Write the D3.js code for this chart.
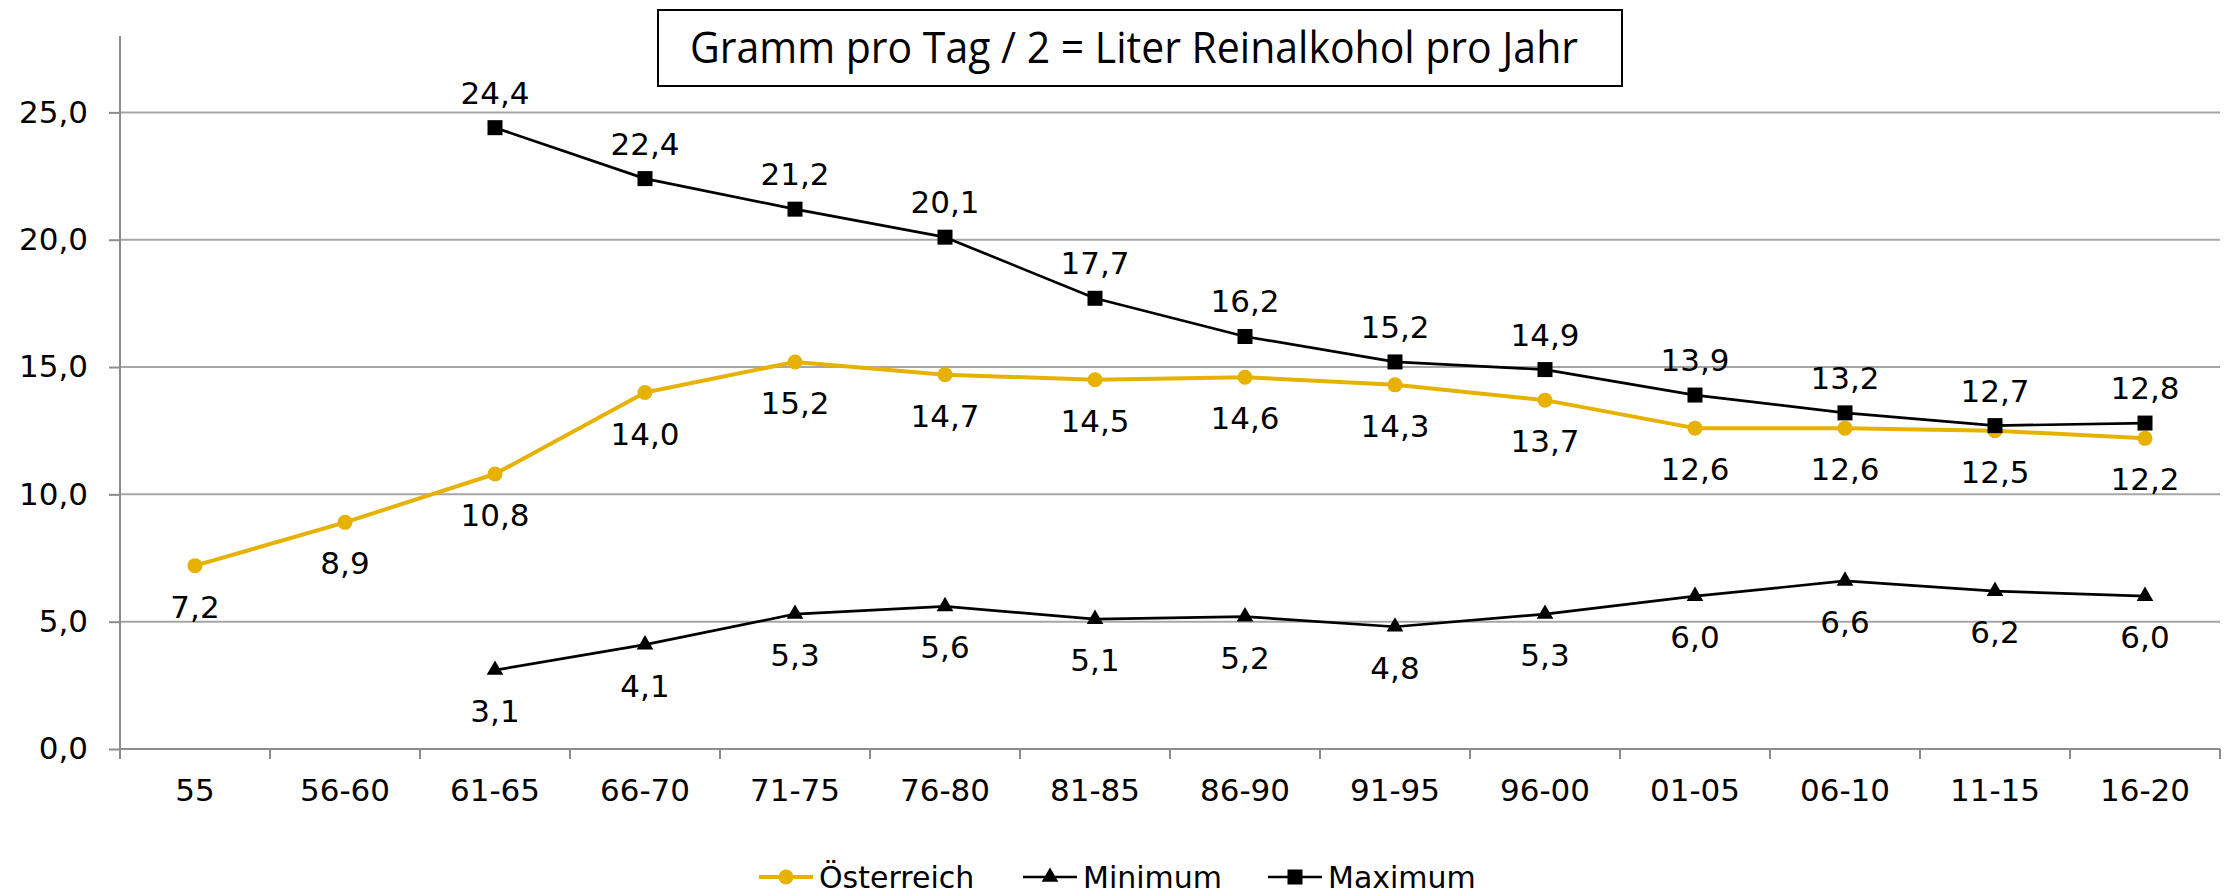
<!DOCTYPE html>
<html>
<head>
<meta charset="utf-8">
<script src="https://cdn.jsdelivr.net/npm/d3@7"></script>
<style>
html,body{margin:0;padding:0;background:#fff;}
svg{display:block;}
</style>
</head>
<body>
<svg id="chart" width="2233" height="895"></svg>
<script>
const categories = ["55","56-60","61-65","66-70","71-75","76-80","81-85","86-90","91-95","96-00","01-05","06-10","11-15","16-20"];
const oesterreich = [7.2, 8.9, 10.8, 14.0, 15.2, 14.7, 14.5, 14.6, 14.3, 13.7, 12.6, 12.6, 12.5, 12.2];
const minimum = [null, null, 3.1, 4.1, 5.3, 5.6, 5.1, 5.2, 4.8, 5.3, 6.0, 6.6, 6.2, 6.0];
const maximum = [null, null, 24.4, 22.4, 21.2, 20.1, 17.7, 16.2, 15.2, 14.9, 13.9, 13.2, 12.7, 12.8];
const yTicks = [0, 5, 10, 15, 20, 25];
const titleText = "Gramm pro Tag / 2 = Liter Reinalkohol pro Jahr";
const seriesNames = ["Österreich", "Minimum", "Maximum"];

(function () {
const GOLD = "#E7B100";
const FONT = "'DejaVu Sans', Verdana, sans-serif";
const fmt = v => d3.format(".1f")(v).replace(".", ",");

const svg = d3.select("#chart");
const pl = 120, pr = 2220, pt = 36, pb = 749;

const x = d3.scaleBand().domain(categories).range([pl, pr]).paddingInner(0).paddingOuter(0);
const y = d3.scaleLinear().domain([0, 28]).range([pb, pt]);
const cx = c => x(c) + x.bandwidth() / 2;

// gridlines
svg.append("g").selectAll("line").data(yTicks.filter(t => t > 0)).join("line")
  .attr("x1", pl).attr("x2", pr)
  .attr("y1", d => y(d)).attr("y2", d => y(d))
  .attr("stroke", "#A6A6A6").attr("stroke-width", 2);

// y axis
const yAxis = d3.axisLeft(y).tickValues(yTicks).tickSize(11).tickPadding(21).tickFormat(fmt);
const gy = svg.append("g").attr("transform", `translate(${pl},0)`).call(yAxis);
gy.select(".domain").attr("stroke", "#8C8C8C").attr("stroke-width", 2).attr("d", `M0,${pb}V${pt}`);
gy.selectAll(".tick line").attr("stroke", "#8C8C8C").attr("stroke-width", 2);
gy.selectAll(".tick text").attr("font-family", FONT).attr("font-size", 31).attr("fill", "#000");

// x axis
const xAxis = d3.axisBottom(x).tickSize(0).tickPadding(30);
const gx = svg.append("g").attr("transform", `translate(0,${pb})`).call(xAxis);
gx.select(".domain").attr("stroke", "#8C8C8C").attr("stroke-width", 2).attr("d", `M${pl},0H${pr}`);
gx.selectAll(".tick text").attr("font-family", FONT).attr("font-size", 31).attr("fill", "#000");
const bounds = categories.map(c => x(c)).concat([pr]);
gx.append("g").selectAll("line").data(bounds).join("line")
  .attr("x1", d => d).attr("x2", d => d).attr("y1", 0).attr("y2", 10)
  .attr("stroke", "#8C8C8C").attr("stroke-width", 2);

const tri = d3.symbol().type(d3.symbolTriangle).size(120);

// series
function series(vals, color, width, marker) {
  const data = categories.map((c, i) => ({c, v: vals[i]}));
  const line = d3.line().defined(d => d.v !== null).x(d => cx(d.c)).y(d => y(d.v));
  svg.append("path").datum(data).attr("d", line).attr("fill", "none")
    .attr("stroke", color).attr("stroke-width", width).attr("stroke-linejoin", "round");
  const pts = data.filter(d => d.v !== null);
  const g = svg.append("g");
  if (marker === "circle") g.selectAll("circle").data(pts).join("circle")
    .attr("cx", d => cx(d.c)).attr("cy", d => y(d.v)).attr("r", 7.5).attr("fill", color);
  if (marker === "tri") g.selectAll("path").data(pts).join("path")
    .attr("d", tri).attr("transform", d => `translate(${cx(d.c)},${y(d.v)})`).attr("fill", color);
  if (marker === "sq") g.selectAll("rect").data(pts).join("rect")
    .attr("x", d => cx(d.c) - 7.5).attr("y", d => y(d.v) - 7.5).attr("width", 15).attr("height", 15).attr("fill", color);
  return pts;
}

const dOe = series(oesterreich, GOLD, 4, "circle");
const dMin = series(minimum, "#000", 2.7, "tri");
const dMax = series(maximum, "#000", 2.7, "sq");

// labels
function labels(data, dy) {
  svg.append("g").selectAll("text").data(data).join("text")
    .attr("x", d => cx(d.c)).attr("y", d => y(d.v) + dy)
    .attr("text-anchor", "middle").attr("dominant-baseline", "central")
    .attr("font-family", FONT).attr("font-size", 31).attr("fill", "#000")
    .text(d => fmt(d.v));
}
labels(dMax, -35);
labels(dMin, 41);
labels(dOe, 41);

// title box
svg.append("rect").attr("x", 658).attr("y", 10).attr("width", 964).attr("height", 76)
  .attr("fill", "#fff").attr("stroke", "#000").attr("stroke-width", 2);
svg.append("text").attr("x", 690).attr("y", 63)
  .attr("font-family", "'Liberation Sans Narrow', 'Open Sans', sans-serif").attr("font-size", 44)
  .attr("textLength", 888).attr("lengthAdjust", "spacingAndGlyphs")
  .attr("fill", "#000").text(titleText);

// legend
const legY = 877;
const legItems = [
  {name: seriesNames[0], x0: 759, color: GOLD, w: 4, m: "circle"},
  {name: seriesNames[1], x0: 1023, color: "#000", w: 2.7, m: "tri"},
  {name: seriesNames[2], x0: 1268, color: "#000", w: 2.7, m: "sq"}
];
const lg = svg.append("g");
legItems.forEach(it => {
  lg.append("line").attr("x1", it.x0).attr("x2", it.x0 + 54).attr("y1", legY).attr("y2", legY)
    .attr("stroke", it.color).attr("stroke-width", it.w);
  const mx = it.x0 + 27;
  if (it.m === "circle") lg.append("circle").attr("cx", mx).attr("cy", legY).attr("r", 7.5).attr("fill", it.color);
  if (it.m === "tri") lg.append("path").attr("d", tri).attr("transform", `translate(${mx},${legY})`).attr("fill", it.color);
  if (it.m === "sq") lg.append("rect").attr("x", mx - 7.5).attr("y", legY - 7.5).attr("width", 15).attr("height", 15).attr("fill", it.color);
  lg.append("text").attr("x", it.x0 + 60).attr("y", legY).attr("dominant-baseline", "central")
    .attr("font-family", FONT).attr("font-size", 30).attr("fill", "#000").text(it.name);
});
})();
</script>
</body>
</html>
